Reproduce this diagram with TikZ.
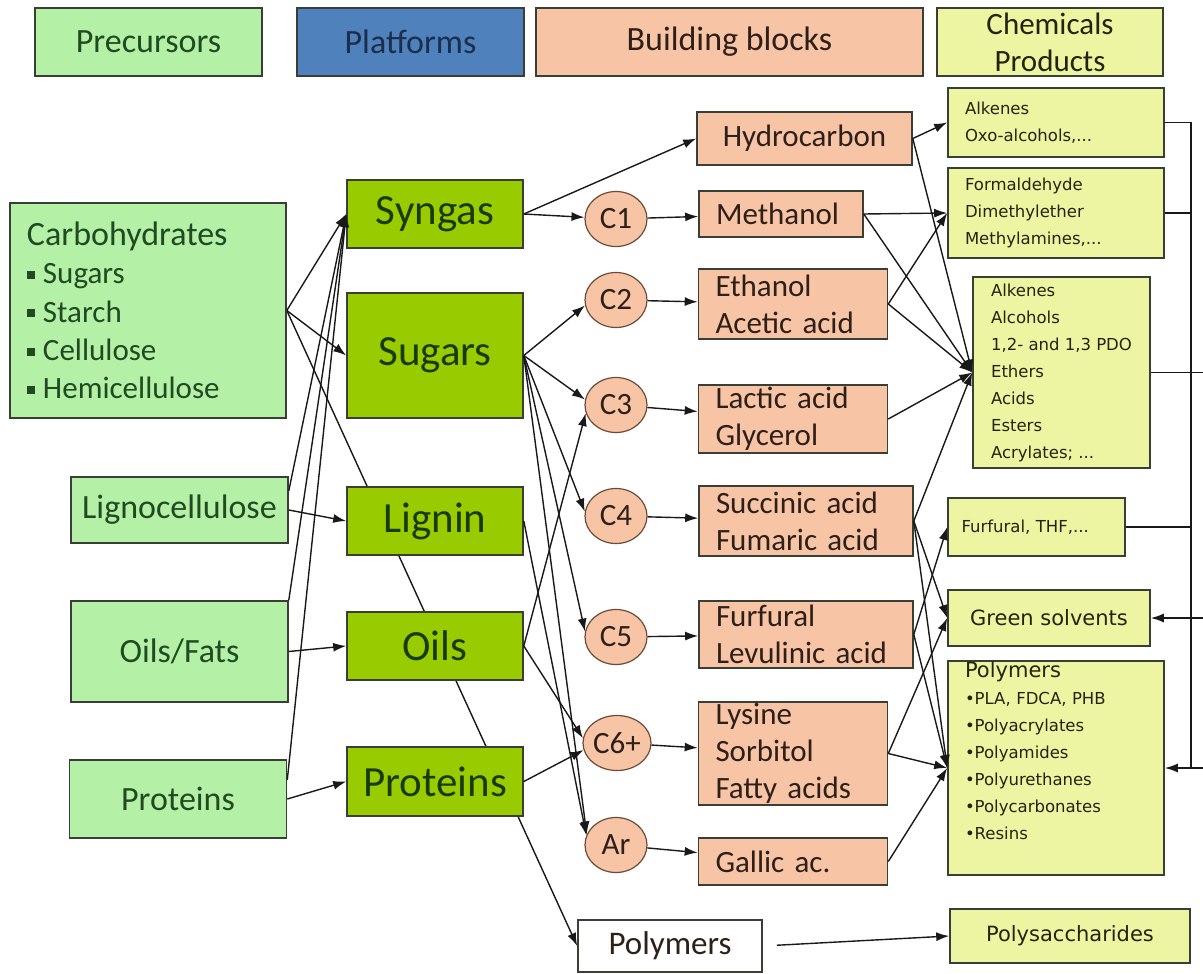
\documentclass[tikz,border=0pt]{standalone}
\usepackage{fontspec}
\setmainfont{Carlito}
\newfontfamily\prodfont{DejaVu Sans}
\usetikzlibrary{arrows.meta,shapes.geometric,backgrounds}

\definecolor{precol}{HTML}{B4F0A5}
\definecolor{pretxt}{HTML}{1F4A22}
\definecolor{platblue}{HTML}{4F81BD}
\definecolor{bluetxt}{HTML}{1B2F4C}
\definecolor{platcol}{HTML}{99CC00}
\definecolor{plattxt}{HTML}{1A3A05}
\definecolor{blkcol}{HTML}{F7C4A6}
\definecolor{blktxt}{HTML}{2E2018}
\definecolor{prodcol}{HTML}{EEF5A2}
\definecolor{prodtxt}{HTML}{24240E}
\definecolor{edgecol}{HTML}{3A3F35}
\definecolor{ringcol}{HTML}{6E4B37}

\newcommand{\sqbul}{\rule[5pt]{8pt}{8pt}\hspace{8pt}}

\begin{document}
\begin{tikzpicture}[x=1pt, y=-1pt,
  hdr/.style={draw=edgecol, line width=1.6pt, minimum height=68pt, inner sep=0pt, align=center,
    font=\fontsize{34}{37}\selectfont},
  pre/.style={draw=edgecol, line width=1.6pt, fill=precol, text=pretxt, minimum width=217pt,
    font=\fontsize{34}{38}\selectfont},
  plat/.style={draw=edgecol, line width=1.6pt, fill=platcol, text=plattxt, minimum width=176pt,
    minimum height=68pt, font=\fontsize{43}{46}\selectfont},
  blk/.style={draw=edgecol, line width=1.6pt, fill=blkcol, text=blktxt, align=left,
    inner xsep=17pt, inner ysep=0pt, font=\fontsize{31}{37}\selectfont},
  ring/.style={ellipse, draw=ringcol, line width=1.2pt, fill=blkcol, text=blktxt, inner sep=0pt,
    minimum width=62pt, minimum height=55pt, font=\fontsize{31}{37}\selectfont},
  prod/.style={draw=edgecol, line width=1.6pt, fill=prodcol, text=prodtxt, align=left,
    inner xsep=17pt, font=\prodfont\fontsize{16.5}{27}\selectfont},
  big/.style={font=\prodfont\fontsize{21}{25}\selectfont, align=center},
  arr/.style={-{Latex[length=13pt,width=9pt]}, line width=1.4pt, black!90},
  ln/.style={line width=1.4pt, black!90}
]
\useasboundingbox (0,0) rectangle (1203,974);

% column heads
\node[hdr, fill=precol, text=pretxt, minimum width=227pt] (hpre) at (148.5,42) {Precursors};
\node[hdr, fill=platblue, text=bluetxt, minimum width=227pt] (hplat) at (410.5,42) {Platforms};
\node[hdr, fill=blkcol, text=blktxt, minimum width=387pt] (hblk) at (729.5,42) {Building blocks};
\node[hdr, fill=prodcol, text=prodtxt, minimum width=226pt, font=\fontsize{31}{37}\selectfont] (hchem) at (1050,42) {Chemicals\\Products};

% precursors
\node[pre, minimum width=276pt, minimum height=215pt, text width=242pt, align=left, inner xsep=17pt] (carb) at (148,310.5)
  {Carbohydrates\\ \fontsize{31}{38.5}\selectfont\sqbul Sugars\\ \sqbul Starch\\ \sqbul Cellulose\\ \sqbul Hemicellulose};
\node[pre, minimum height=66pt] (ligno) at (179.5,510) {Lignocellulose};
\node[pre, minimum height=101pt] (oilsf) at (179.5,651.5) {Oils/Fats};
\node[pre, minimum height=78pt] (protpre) at (178,799) {Proteins};

% platforms
\node[plat] (syngas) at (435,214) {Syngas};
\node[plat, minimum height=125pt] (sugars) at (435,355.5) {Sugars};
\node[plat] (lignin) at (435,521) {Lignin};
\node[plat] (oils) at (435,646) {Oils};
\node[plat, minimum height=69pt] (protp) at (435,781.5) {Proteins};

% carbon numbers
\node[ring] (c1) at (616,219) {C1};
\node[ring] (c2) at (616,300) {C2};
\node[ring] (c3) at (616,405) {C3};
\node[ring] (c4) at (616,516) {C4};
\node[ring] (c5) at (616,637) {C5};
\node[ring, minimum width=68pt] (c6) at (617,743) {C6+};
\node[ring] (ar) at (616,845) {Ar};

% building blocks
\node[blk, text width=181pt, align=center, minimum height=53pt] (hydro) at (804.5,138.5) {Hydrocarbon};
\node[blk, text width=130pt, minimum height=46pt] (meth) at (781,214) {Methanol};
\node[blk, text width=155pt, minimum height=70pt] (eth) at (793,304) {Ethanol\\Acetic acid};
\node[blk, text width=155pt, minimum height=68pt] (lac) at (793,419) {Lactic acid\\Glycerol};
\node[blk, text width=180pt, minimum height=70pt] (succ) at (806,521) {Succinic acid\\Fumaric acid};
\node[blk, text width=180pt, minimum height=67pt] (furf) at (806,634.5) {Furfural\\Levulinic acid};
\node[blk, text width=155pt, minimum height=103pt] (lys) at (793,753.5) {Lysine\\Sorbitol\\Fatty acids};
\node[blk, text width=155pt, minimum height=47pt] (gallic) at (793,861.5) {Gallic ac.};
\node[draw=edgecol, line width=1.6pt, fill=white, text=blktxt, minimum width=184pt, minimum height=52pt,
  font=\fontsize{33}{37}\selectfont] (polyw) at (670,946) {Polymers};

% products
\node[prod, text width=182pt, minimum height=69pt] (alk1) at (1056,122.5) {Alkenes\\Oxo-alcohols,...};
\node[prod, text width=182pt, minimum height=90pt] (form) at (1056,213) {Formaldehyde\\Dimethylether\\Methylamines,...};
\node[prod, inner xsep=0pt, minimum width=177pt, minimum height=191pt] (alk2) at (1061.5,372.5)
  {Alkenes\\Alcohols\\1,2- and 1,3 PDO\\Ethers\\Acids\\Esters\\Acrylates; ...};
\node[prod, text width=150pt, inner xsep=13.5pt, minimum height=58pt] (thf) at (1036.5,527) {Furfural, THF,...};
\node[prod, big, minimum width=202pt, minimum height=56pt] (green) at (1049,618) {Green solvents};
\node[prod, text width=182pt, inner ysep=0pt, minimum height=214pt] (polyl) at (1056,768)
  {{\fontsize{21}{27}\selectfont Polymers}\\•PLA, FDCA, PHB\\•Polyacrylates\\•Polyamides\\•Polyurethanes\\•Polycarbonates\\•Resins\\\strut};
\node[prod, big, minimum width=240pt, minimum height=54pt] (polys) at (1070,936) {Polysaccharides};

\begin{scope}[on background layer]
\fill[white] (0,0) rectangle (1203,974);
\draw[arr] (carb.east) -- (polyw.west);
\end{scope}

% precursors to platforms
\draw[arr] (carb.east) -- (syngas.west);
\draw[arr] (carb.east) -- (sugars.west);
\draw[arr] (ligno.10) -- (syngas.west);
\draw[arr] (ligno.east) -- (lignin.west);
\draw[arr] (oilsf.north east) -- (syngas.west);
\draw[arr] (oilsf.east) -- (oils.west);
\draw[arr] (protpre.10) -- (syngas.west);
\draw[arr] (protpre.east) -- (protp.west);

% platforms to carbon numbers
\draw[arr] (syngas.east) -- (hydro.west);
\draw[arr] (syngas.east) -- (c1);
\draw[arr] (sugars.east) -- (c2.190);
\draw[arr] (sugars.east) -- (c3.170);
\draw[arr] (sugars.east) -- (c4.172);
\draw[arr] (sugars.east) -- (c5.170);
\draw[arr] (sugars.east) -- (ar.160);
\draw[arr] (lignin.east) -- (ar.162);
\draw[arr] (oils.east) -- (c3.195);
\draw[arr] (oils.east) -- (c6.172);
\draw[arr] (protp.east) -- (c6.192);

% carbon numbers to building blocks
\foreach \c/\b in {c1/meth,c2/eth,c3/lac,c4/succ,c5/furf,c6/lys,ar/gallic}
  \draw[arr] (\c) -- (\b);

% building blocks to products
\draw[arr] (hydro.east) -- (alk1.west);
\draw[arr] (meth.east) -- (form.west);
\draw[arr] (eth.east) -- (form.west);
\foreach \b in {hydro,meth,eth,lac,succ}
  \draw[arr] (\b.east) -- (alk2.west);
\draw[arr] (succ.east) -- (green.west);
\draw[arr] (furf.east) -- (thf.west);
\draw[arr] (lys.east) -- (green.west);
\foreach \b in {succ,furf,lys,gallic}
  \draw[arr] (\b.east) -- (polyl.west);
\draw[arr, shorten <=14pt] (polyw.east) -- (polys.west);

% feedback bus on the right
\coordinate (bus1) at (1191,122.5);
\coordinate (bus2) at (1191,213);
\coordinate (bus4) at (1191,527);
\coordinate (busB) at (1191,768);
\coordinate (edge3) at (1203,372.5);
\coordinate (edgeG) at (1203,618);
\coordinate (edgeP) at (1203,768);
\draw[ln] (alk1.east) -- (bus1) -- (busB);
\draw[ln] (form.east) -- (bus2);
\draw[ln] (thf.east) -- (bus4);
\draw[ln] (alk2.east) -- (edge3);
\draw[arr] (edgeG) -- (green.east);
\draw[arr] (edgeP) -- (polyl.east);
\end{tikzpicture}
\end{document}
